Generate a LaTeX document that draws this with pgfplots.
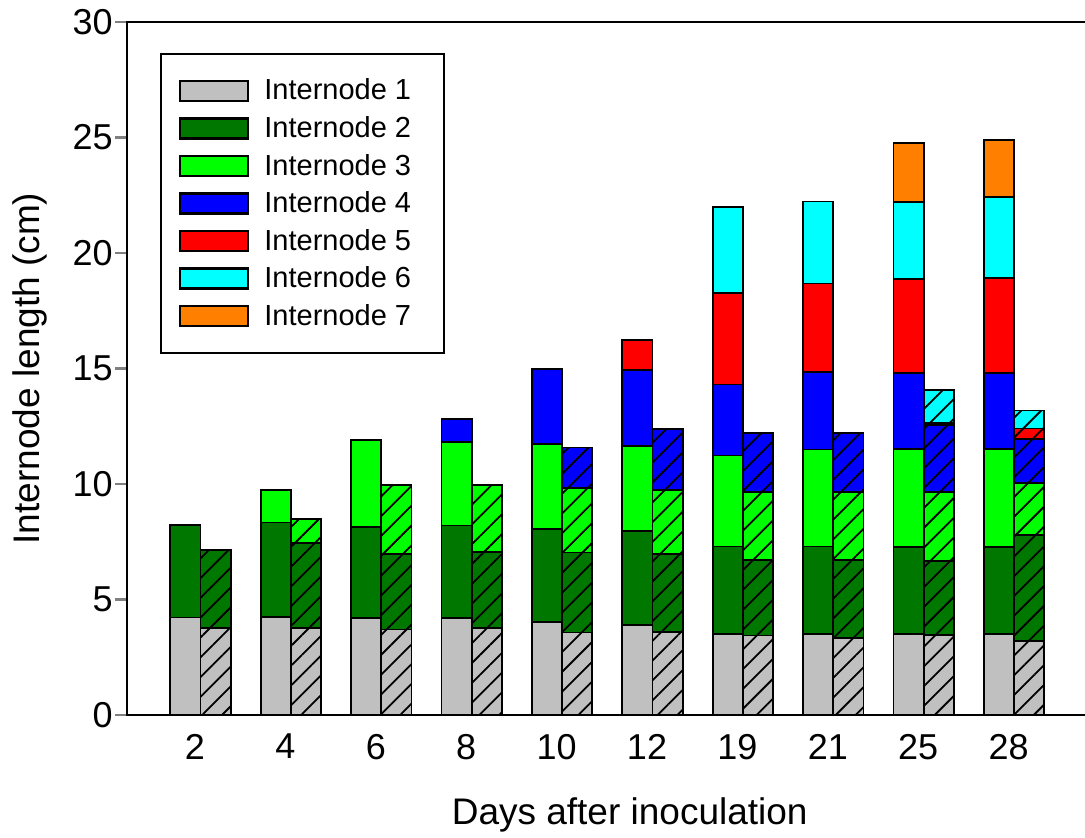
\documentclass[border=0pt]{standalone}
\usepackage{fontspec}
\setmainfont{Liberation Sans}
\usepackage{pgfplots}
\usepackage{pgfplotstable}
\pgfplotsset{compat=1.18}
\usetikzlibrary{patterns.meta}
\definecolor{c1}{HTML}{C0C0C0}
\definecolor{c2}{HTML}{007800}
\definecolor{c3}{HTML}{00FF00}
\definecolor{c4}{HTML}{0000FF}
\definecolor{c5}{HTML}{FF0000}
\definecolor{c6}{HTML}{00FFFF}
\definecolor{c7}{HTML}{FF8000}

% solid bars (left of each pair)
\pgfplotstableread{
x i1   i2   i3   i4   i5   i6   i7
0 4.22 4.00 0    0    0    0    0
1 4.23 4.10 1.42 0    0    0    0
2 4.19 3.94 3.79 0    0    0    0
3 4.19 4.01 3.63 0.98 0    0    0
4 4.02 4.04 3.67 3.26 0    0    0
5 3.90 4.07 3.66 3.29 1.30 0    0
6 3.52 3.77 3.94 3.08 3.96 3.73 0
7 3.50 3.79 4.20 3.36 3.83 3.55 0
8 3.51 3.76 4.23 3.31 4.05 3.34 2.57
9 3.51 3.76 4.23 3.31 4.12 3.48 2.48
}\solid

% hatched bars (right of each pair)
\pgfplotstableread{
x i1   i2   i3   i4   i5   i6
0 3.75 3.40 0    0    0    0
1 3.76 3.68 1.05 0    0    0
2 3.70 3.26 3.01 0    0    0
3 3.78 3.27 2.89 0    0    0
4 3.57 3.46 2.79 1.76 0    0
5 3.60 3.38 2.77 2.64 0    0
6 3.44 3.28 2.92 2.57 0    0
7 3.34 3.36 2.94 2.58 0    0
8 3.46 3.19 2.99 2.92 0.08 1.43
9 3.21 4.58 2.24 1.93 0.44 0.78
}\hatch

\pgfplotsset{
  base/.style={
    width=481.5pt, height=346.5pt, scale only axis,
    xmin=-0.752, xmax=9.90, ymin=0, ymax=30,
    ybar stacked, bar width=0.334,
  },
  sb/.style={fill=#1, draw=black, line width=0.9pt, forget plot},
  hb/.style={fill=#1, draw=black, line width=0.9pt, forget plot,
    postaction={pattern={Lines[angle=45,distance=7pt,line width=0.9pt]}}},
}

\begin{document}
\begin{tikzpicture}
\begin{axis}[base, name=ax,
  axis line style={line width=1.4pt},
  ytick={0,5,...,30}, ytick pos=left, tick align=outside,
  major tick length=6pt, ytick style={line width=1.2pt},
  xtick={0,...,9}, xticklabels={2,4,6,8,10,12,19,21,25,28},
  xtick style={draw=none},
  tick label style={font=\fontsize{18}{20}\selectfont},
  yticklabel style={inner xsep=1pt},
  /pgf/number format/assume math mode=true,
  xlabel={Days after inoculation},
  ylabel={Internode length (cm)},
  xlabel style={font=\fontsize{18.5}{20}\selectfont, at={(axis description cs:0.522,-0.144)}, anchor=center},
  ylabel style={font=\fontsize{18.5}{20}\selectfont, at={(axis description cs:-0.101,0.5)}, anchor=center},
  legend image code/.code={\draw[#1] (0pt,-5pt) rectangle (34pt,5pt);},
  legend style={at={(0.0343,0.9553)}, anchor=north west, draw=black, line width=1pt,
    font=\fontsize{14.5}{16}\selectfont, row sep=2.75pt, inner xsep=9pt, inner ysep=10.5pt,
    cells={anchor=west}, nodes={inner xsep=7.5pt}},
  legend cell align=left,
]
\addlegendimage{fill=c1, draw=black, line width=1.2pt}
\addlegendimage{fill=c2, draw=black, line width=1.2pt}
\addlegendimage{fill=c3, draw=black, line width=1.2pt}
\addlegendimage{fill=c4, draw=black, line width=1.2pt}
\addlegendimage{fill=c5, draw=black, line width=1.2pt}
\addlegendimage{fill=c6, draw=black, line width=1.2pt}
\addlegendimage{fill=c7, draw=none}
\legend{Internode 1,Internode 2,Internode 3,Internode 4,Internode 5,Internode 6,Internode 7}
\addplot[sb=c1] table[x expr=\thisrow{x}-0.107, y=i1] {\solid};
\addplot[sb=c2] table[x expr=\thisrow{x}-0.107, y=i2] {\solid};
\addplot[sb=c3] table[x expr=\thisrow{x}-0.107, y=i3] {\solid};
\addplot[sb=c4] table[x expr=\thisrow{x}-0.107, y=i4] {\solid};
\addplot[sb=c5] table[x expr=\thisrow{x}-0.107, y=i5] {\solid};
\addplot[sb=c6] table[x expr=\thisrow{x}-0.107, y=i6] {\solid};
\addplot[sb=c7] table[x expr=\thisrow{x}-0.107, y=i7] {\solid};
\end{axis}
\begin{axis}[base, hide axis]
\addplot[hb=c1] table[x expr=\thisrow{x}+0.227, y=i1] {\hatch};
\addplot[hb=c2] table[x expr=\thisrow{x}+0.227, y=i2] {\hatch};
\addplot[hb=c3] table[x expr=\thisrow{x}+0.227, y=i3] {\hatch};
\addplot[hb=c4] table[x expr=\thisrow{x}+0.227, y=i4] {\hatch};
\addplot[hb=c5] table[x expr=\thisrow{x}+0.227, y=i5] {\hatch};
\addplot[hb=c6] table[x expr=\thisrow{x}+0.227, y=i6] {\hatch};
\end{axis}
\pgfresetboundingbox
\path ([xshift=-63.5pt,yshift=-61.5pt]ax.south west) rectangle ([xshift=-2.5pt,yshift=11pt]ax.north east);
\end{tikzpicture}
\end{document}
